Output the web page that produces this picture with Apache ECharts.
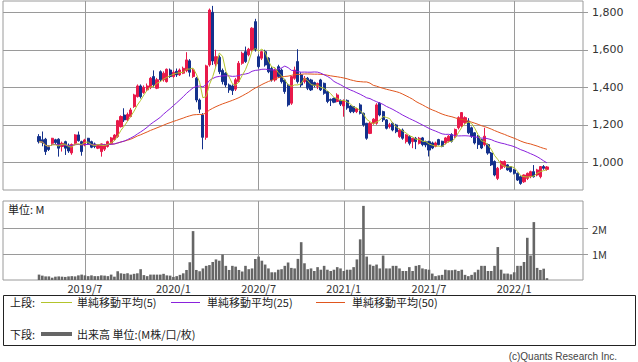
<!DOCTYPE html>
<html><head><meta charset="utf-8">
<script src="https://cdn.jsdelivr.net/npm/echarts@6/dist/echarts.min.js"></script>
<style>html,body{margin:0;padding:0;background:#fff}#c{width:638px;height:362px}</style>
</head><body><div id="c"></div>
<script>
// ---- axis / data definitions ----
const axisStart = '2019/1/7';      // first (empty) week on the axis
const axisWeekCount = 178;
const dataStart = '2019/3/25';     // first weekly candle
const tickLabels = ['2019/7','2020/1','2020/7','2021/1','2021/7','2022/1'];
const priceTicks = [1000,1200,1400,1600,1800];
const volumeTicks = [1,2];

const openP = [1137,1120,1123,1080,1101,1120,1123,1084,1110,1092,
1050,1101,1146,1110,1093,1128,1110,1098,1075,1057,
1070,1084,1101,1121,1137,1190,1252,1226,1244,1297,
1350,1407,1372,1386,1400,1457,1395,1483,1440,1430,
1492,1457,1485,1466,1475,1488,1541,1457,1448,1332,
1252,1133,1519,1800,1525,1560,1490,1475,1412,1407,
1390,1430,1528,1590,1573,1599,1750,1563,1555,1590,
1555,1500,1439,1510,1492,1439,1412,1315,1448,1537,
1466,1430,1448,1439,1425,1405,1439,1421,1377,1335,
1340,1324,1330,1300,1330,1300,1297,1270,1306,1261,
1208,1154,1208,1208,1315,1270,1226,1190,1208,1199,
1137,1172,1110,1137,1110,1128,1101,1130,1110,1110,
1103,1085,1121,1112,1103,1112,1148,1139,1184,1193,
1211,1220,1184,1157,1139,1121,1094,1094,1049,1004,
914,968,977,986,977,959,941,923,896,914,
923,950,932,923,977,962];
const closeP = [1110,1105,1057,1068,1128,1105,1075,1101,1075,1060,
1095,1146,1115,1057,1119,1101,1080,1084,1090,1098,
1092,1110,1130,1145,1222,1244,1226,1255,1279,1359,
1407,1350,1400,1407,1448,1413,1440,1440,1475,1496,
1457,1480,1466,1492,1501,1546,1480,1492,1332,1283,
1133,1514,1812,1540,1563,1483,1430,1412,1386,1382,
1440,1528,1581,1537,1603,1715,1599,1510,1590,1519,
1483,1439,1492,1457,1430,1377,1306,1457,1492,1430,
1412,1448,1395,1386,1410,1420,1386,1368,1324,1330,
1320,1359,1310,1330,1290,1270,1270,1285,1261,1199,
1128,1208,1230,1306,1252,1226,1181,1200,1172,1163,
1172,1128,1146,1101,1128,1110,1128,1094,1092,1065,
1076,1103,1094,1085,1130,1139,1112,1175,1238,1265,
1238,1157,1139,1103,1094,1076,1139,1049,986,932,
968,1004,1004,959,950,941,905,887,932,941,
950,923,959,977,968,975];
const lowP = [1100,1085,1039,1060,1090,1095,1030,1057,1039,1050,
1040,1095,1110,1035,1085,1095,1075,1075,1070,1030,
1060,1078,1095,1115,1130,1185,1215,1220,1240,1290,
1345,1340,1365,1380,1390,1400,1390,1430,1430,1425,
1450,1450,1455,1460,1470,1480,1457,1450,1320,1262,
1069,1120,1510,1519,1510,1470,1415,1400,1370,1359,
1380,1425,1520,1530,1565,1590,1590,1500,1545,1510,
1475,1430,1430,1450,1420,1365,1297,1306,1440,1420,
1400,1420,1385,1380,1400,1390,1380,1360,1315,1300,
1315,1320,1300,1243,1280,1262,1262,1262,1255,1190,
1120,1150,1200,1200,1245,1215,1175,1180,1165,1155,
1130,1120,1100,1090,1075,1070,1095,1085,1080,1031,
1070,1080,1090,1080,1095,1105,1105,1130,1175,1185,
1205,1150,1130,1095,1071,1070,1085,1040,980,925,
905,960,970,955,945,935,900,880,890,905,
915,918,925,914,960,955];
const highP = [1150,1164,1130,1090,1130,1125,1128,1110,1115,1100,
1100,1150,1164,1115,1125,1130,1115,1105,1095,1100,
1098,1115,1135,1150,1226,1250,1288,1265,1290,1365,
1415,1415,1410,1420,1455,1490,1450,1490,1485,1500,
1500,1490,1500,1500,1510,1587,1550,1500,1455,1340,
1262,1520,1820,1834,1600,1570,1500,1480,1420,1415,
1450,1540,1590,1617,1610,1720,1765,1575,1595,1600,
1560,1510,1500,1520,1500,1445,1420,1460,1510,1603,
1480,1460,1455,1445,1430,1425,1445,1425,1380,1340,
1345,1368,1335,1335,1335,1305,1300,1290,1315,1265,
1210,1215,1235,1315,1320,1275,1230,1210,1215,1205,
1180,1180,1150,1145,1130,1135,1135,1135,1115,1115,
1110,1110,1125,1115,1135,1145,1155,1180,1245,1268,
1245,1235,1190,1160,1145,1125,1184,1100,1055,1010,
975,1010,1010,990,980,965,945,930,935,945,
955,985,965,980,985,980];
const volumeM = [0.21,0.17,0.14,0.14,0.09,0.13,0.14,0.13,0.12,0.14,0.15,0.14,0.18,0.21,0.18,0.15,0.18,0.15,0.15,0.18,0.17,0.15,0.21,0.13,
0.34,0.26,0.24,0.26,0.21,0.24,0.26,0.42,0.19,0.15,0.21,0.21,0.21,0.21,0.24,0.18,0.17,0.12,0.15,0.2,
0.26,0.39,0.69,1.9,
0.39,0.34,0.45,0.55,0.58,0.7,0.8,0.75,0.99,0.55,0.39,0.55,0.52,0.39,0.33,0.55,0.42,0.45,0.82,0.91,0.75,0.6,0.45,0.3,0.3,0.4,0.42,0.55,0.68,
0.47,0.45,0.82,1.47,0.65,0.42,0.45,0.35,0.5,0.4,0.55,0.4,0.35,0.4,0.5,0.45,0.35,0.4,0.4,0.5,0.8,1.58,2.88,0.91,0.6,0.55,0.6,0.45,0.95,0.45,
0.45,0.55,0.55,0.45,0.35,0.35,0.5,0.35,0.55,0.58,0.45,0.42,0.4,0.25,0.15,0.18,0.2,0.4,0.38,0.38,0.4,0.35,0.4,0.2,0.15,0.2,0.3,0.4,0.55,0.55,0.35,
0.35,0.55,1.28,0.4,0.25,0.25,0.22,0.3,0.55,0.55,0.7,1.64,0.95,2.25,0.47,0.39,0.44,0.07];

// ---- build axis and series ----
const weeks = [];
(function(){
  const [y,m,d] = axisStart.split('/').map(Number);
  const t0 = Date.UTC(y, m-1, d);
  for (let i = 0; i < axisWeekCount; i++) {
    const dt = new Date(t0 + i*7*864e5);
    weeks.push(dt.getUTCFullYear() + '/' + (dt.getUTCMonth()+1) + '/' + dt.getUTCDate());
  }
})();
const labelOf = v => { const p = v.split('/').map(Number); const s = p[0] + '/' + p[1]; return (p[2] <= 7 && tickLabels.indexOf(s) >= 0) ? s : ''; };
const isTick = (i, v) => labelOf(v) !== '';
const first = weeks.indexOf(dataStart);

function sma(arr, n) {
  return arr.map((_, i) => { const s = Math.max(0, i-n+1); let t = 0; for (let k = s; k <= i; k++) t += arr[k]; return t/(i-s+1); });
}
function place(arr) { const out = weeks.map(() => '-'); arr.forEach((v, k) => { out[first+k] = v; }); return out; }

const candles = place(openP.map((o, k) => [o, closeP[k], lowP[k], highP[k]]));
const ma5 = place(sma(closeP, 5)), ma25 = place(sma(closeP, 25)), ma50 = place(sma(closeP, 50));
const vol = place(volumeM);

const UP = '#e8194a', DOWN = '#14318c';
const C5 = '#b3c42c', C25 = '#8a22dc', C50 = '#e0561e';
const GRID = '#9a9a9a';
const JP = '"Noto Sans CJK JP", "Noto Sans", sans-serif';

const chart = echarts.init(document.getElementById('c'), null, {renderer: 'svg', width: 638, height: 362});
chart.setOption({
  animation: false,
  backgroundColor: '#fff',
  grid: [
    {left: 3, top: 1, width: 580, height: 189, show: true, borderColor: GRID, borderWidth: 1},
    {left: 3, top: 201, width: 580, height: 79, show: true, borderColor: GRID, borderWidth: 1}
  ],
  xAxis: [
    {type: 'category', gridIndex: 0, data: weeks, boundaryGap: false,
     axisLine: {show: false}, axisTick: {show: false}, axisLabel: {show: false},
     splitLine: {show: true, interval: isTick, lineStyle: {color: GRID, width: 1}}},
    {type: 'category', gridIndex: 1, data: weeks, boundaryGap: false,
     axisLine: {show: false}, axisTick: {show: false},
     axisLabel: {show: true, interval: isTick, formatter: labelOf, margin: 2, fontSize: 11, color: '#333', fontFamily: JP},
     splitLine: {show: true, interval: isTick, lineStyle: {color: GRID, width: 1}}}
  ],
  yAxis: [
    {type: 'value', gridIndex: 0, position: 'right', min: 852, max: 1860, scale: true,
     axisLine: {show: false},
     axisTick: {show: true, length: 5, inside: false, customValues: priceTicks, lineStyle: {color: GRID}},
     axisLabel: {customValues: priceTicks, margin: 9, fontSize: 11, color: '#333', fontFamily: '"DejaVu Sans", sans-serif',
                 formatter: v => Number(v).toLocaleString('en-US')},
     splitLine: {show: true, lineStyle: {color: GRID, width: 1}}},
    {type: 'value', gridIndex: 1, position: 'right', min: 0, max: 3.07,
     axisLine: {show: false},
     axisTick: {show: true, length: 5, inside: false, customValues: volumeTicks, lineStyle: {color: GRID}},
     axisLabel: {customValues: volumeTicks, margin: 9, fontSize: 11, color: '#333', fontFamily: JP,
                 formatter: v => v + 'M'},
     splitLine: {show: true, lineStyle: {color: GRID, width: 1}}}
  ],
  series: [
    {type: 'candlestick', xAxisIndex: 0, yAxisIndex: 0, data: candles, barWidth: 2.6,
     itemStyle: {color: UP, color0: DOWN, borderColor: UP, borderColor0: DOWN, borderWidth: 1}},
    {type: 'line', xAxisIndex: 0, yAxisIndex: 0, data: ma50, showSymbol: false, smooth: false,
     lineStyle: {color: C50, width: 1}},
    {type: 'line', xAxisIndex: 0, yAxisIndex: 0, data: ma25, showSymbol: false,
     lineStyle: {color: C25, width: 1}},
    {type: 'line', xAxisIndex: 0, yAxisIndex: 0, data: ma5, showSymbol: false,
     lineStyle: {color: C5, width: 1}},
    {type: 'bar', xAxisIndex: 1, yAxisIndex: 1, data: vol, barWidth: 2.6,
     itemStyle: {color: '#666666'}}
  ],
  graphic: [
    {type: 'text', left: 8, top: 203, style: {text: '単位: M', fontSize: 11, fill: '#222', fontFamily: JP}},
    {type: 'rect', shape: {x: 3.5, y: 295.5, width: 632, height: 50}, style: {fill: 'none', stroke: '#222', lineWidth: 1}},
    {type: 'text', x: 10, y: 302, style: {text: '上段:', fontSize: 11, fill: '#222', fontFamily: JP, verticalAlign: 'middle'}},
    {type: 'line', shape: {x1: 41, y1: 302.5, x2: 72, y2: 302.5}, style: {stroke: C5, lineWidth: 1}},
    {type: 'text', x: 77, y: 302, style: {text: '単純移動平均(5)', fontSize: 11, fill: '#222', fontFamily: JP, verticalAlign: 'middle'}},
    {type: 'line', shape: {x1: 171, y1: 302.5, x2: 200, y2: 302.5}, style: {stroke: C25, lineWidth: 1}},
    {type: 'text', x: 207, y: 302, style: {text: '単純移動平均(25)', fontSize: 11, fill: '#222', fontFamily: JP, verticalAlign: 'middle'}},
    {type: 'line', shape: {x1: 316, y1: 302.5, x2: 345, y2: 302.5}, style: {stroke: C50, lineWidth: 1}},
    {type: 'text', x: 352, y: 302, style: {text: '単純移動平均(50)', fontSize: 11, fill: '#222', fontFamily: JP, verticalAlign: 'middle'}},
    {type: 'text', x: 10, y: 334, style: {text: '下段:', fontSize: 11, fill: '#222', fontFamily: JP, verticalAlign: 'middle'}},
    {type: 'line', shape: {x1: 41, y1: 334, x2: 72, y2: 334}, style: {stroke: '#666', lineWidth: 4}},
    {type: 'text', x: 77, y: 334, style: {text: '出来高 単位:(M株/口/枚)', fontSize: 11, fill: '#222', fontFamily: JP, verticalAlign: 'middle'}},
    {type: 'text', x: 617, y: 356, style: {text: '(c)Quants Research Inc.', fontSize: 10, fill: '#444', fontFamily: '"Liberation Sans", sans-serif', align: 'right', verticalAlign: 'middle'}}
  ]
});
</script>
</body></html>
